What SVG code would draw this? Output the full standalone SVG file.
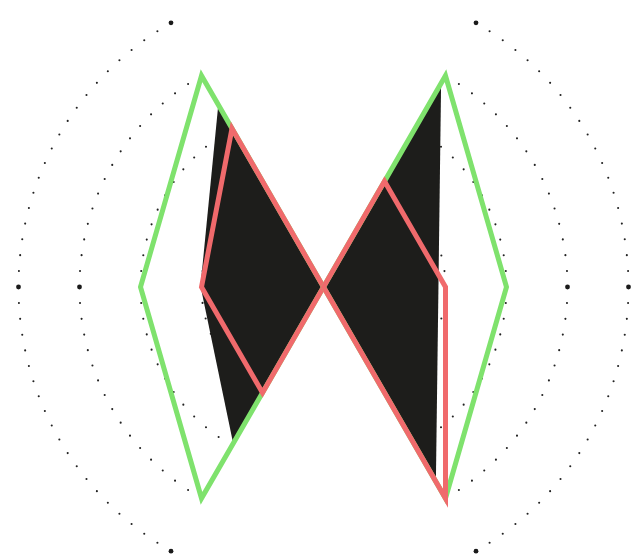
<svg xmlns="http://www.w3.org/2000/svg" width="632" height="556" viewBox="0 0 632 556">
  <style>
    .arc { fill: none; stroke: #222222; stroke-width: 2.1; stroke-linecap: round; stroke-dasharray: 0 1; }
    .bigdot { fill: #1a1a1a; }
    .fill { fill: #1d1d1b; stroke: none; }
    .green { fill: none; stroke: #7fe26d; stroke-width: 5; stroke-linejoin: miter; stroke-miterlimit: 10; }
    .red { fill: none; stroke: #f06a6c; stroke-width: 5; stroke-linejoin: miter; stroke-miterlimit: 10; }
  </style>
  <rect width="632" height="556" fill="#ffffff"/>
  <g id="arcs">
    <path class="arc" pathLength="40" d="M171 22.86 A305 305 0 0 0 171 551.14"/>
    <path class="arc" pathLength="32" d="M201.5 75.69 A244 244 0 0 0 201.5 498.31"/>
    <path class="arc" pathLength="24" d="M232 128.52 A183 183 0 0 0 232 445.48"/>
    <path class="arc" pathLength="16" d="M262.5 181.34 A122 122 0 0 0 262.5 392.66"/>
    <path class="arc" pathLength="40" d="M476 22.86 A305 305 0 0 1 476 551.14"/>
    <path class="arc" pathLength="32" d="M445.5 75.69 A244 244 0 0 1 445.5 498.31"/>
    <path class="arc" pathLength="24" d="M415 128.52 A183 183 0 0 1 415 445.48"/>
    <path class="arc" pathLength="16" d="M384.5 181.34 A122 122 0 0 1 384.5 392.66"/>
    <circle class="bigdot" cx="171" cy="22.86" r="2.4"/>
    <circle class="bigdot" cx="171" cy="551.14" r="2.4"/>
    <circle class="bigdot" cx="18.5" cy="287" r="2.4"/>
    <circle class="bigdot" cx="79.5" cy="287" r="2.4"/>
    <circle class="bigdot" cx="476" cy="22.86" r="2.4"/>
    <circle class="bigdot" cx="476" cy="551.14" r="2.4"/>
    <circle class="bigdot" cx="628.5" cy="287" r="2.4"/>
    <circle class="bigdot" cx="567.5" cy="287" r="2.4"/>
  </g>
  <g id="left-shape">
    <polygon class="fill" points="218.3,104.8 323.5,287 233.2,443.4 200.5,286"/>
    <polygon class="green" points="201.5,75.69 140.5,287 201.5,498.31 323.5,287"/>
    <polygon class="red" points="232,128.52 201.5,287 262.5,392.66 323.5,287"/>
  </g>
  <g id="right-shape">
    <polygon class="fill" points="441.1,83.4 435.9,481.6 323.5,287"/>
    <polygon class="green" points="445.5,75.69 506.5,287 445.5,498.31 323.5,287"/>
    <polygon class="red" points="384.5,181.34 445.5,287 445.5,498.31 323.5,287"/>
  </g>
</svg>
